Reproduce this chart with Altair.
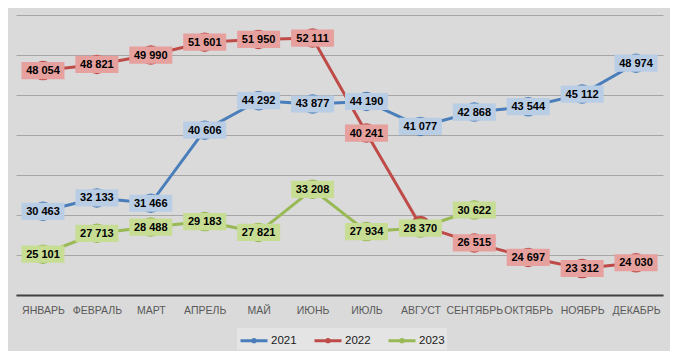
import altair as alt
import pandas as pd

months = ["ЯНВАРЬ", "ФЕВРАЛЬ", "МАРТ", "АПРЕЛЬ", "МАЙ", "ИЮНЬ", "ИЮЛЬ",
          "АВГУСТ", "СЕНТЯБРЬ", "ОКТЯБРЬ", "НОЯБРЬ", "ДЕКАБРЬ"]
years = ["2021", "2022", "2023"]
v2021 = [30463, 32133, 31466, 40606, 44292, 43877, 44190, 41077, 42868, 43544, 45112, 48974]
v2022 = [48054, 48821, 49990, 51601, 51950, 52111, 40241, 28700, 26515, 24697, 23312, 24030]
v2023 = [25101, 27713, 28488, 29183, 27821, 33208, 27934, 28370, 30622]
# label hidden in the reference (covered by the 2023 label)
hidden = {("2022", "АВГУСТ")}

line_colors = ["#4a7ebb", "#be4b48", "#98b954"]
box_colors = ["#b9cde5", "#e6a09e", "#c7dd94"]

rows = []
for yr, vals in zip(years, [v2021, v2022, v2023]):
    for m, v in zip(months, vals):
        lab = "" if (yr, m) in hidden else f"{v:,}".replace(",", " ")
        rows.append({"month": m, "year": yr, "value": v, "label": lab})
df = pd.DataFrame(rows)

x = alt.X("month:N", sort=months, title=None,
          scale=alt.Scale(paddingInner=0, paddingOuter=0),
          axis=alt.Axis(labelAngle=0, ticks=False, grid=False, domainColor="#404040",
                        domainWidth=2, labelColor="#595959", labelFont="Liberation Sans",
                        labelFontSize=10.5, labelPadding=10))
y = alt.Y("value:Q", title=None,
          scale=alt.Scale(domain=[20000, 55000], nice=False, zero=False),
          axis=alt.Axis(values=list(range(20000, 55001, 5000)), labels=False, ticks=False,
                        domain=False, grid=True, gridColor="#a6a6a6", gridWidth=1))

legend = alt.Legend(
    title=None, orient="none", direction="horizontal",
    legendX=221, legendY=313,
    symbolType="M-1,0H2M0.635,0A0.135,0.135 0 1,0 0.365,0A0.135,0.135 0 1,0 0.635,0",
    symbolSize=324, symbolStrokeWidth=3, symbolOpacity=1,
    labelFont="Liberation Sans", labelFontSize=11.5, labelColor="#1a1a1a",
    labelOffset=11, columnPadding=11, padding=2,
    fillColor="#e4e4e4",
)
color = alt.Color("year:N", scale=alt.Scale(domain=years, range=line_colors), legend=legend)

base = alt.Chart(df).encode(x=x, y=y)

lines = base.mark_line(strokeWidth=3).encode(color=color, detail="year:N")
points = base.mark_point(filled=True, size=380, opacity=1, strokeWidth=0).encode(color=color)
boxes = base.mark_point(
    filled=True, opacity=1, strokeWidth=0, size=1849,
    shape="M-1,-0.4H1V0.4H-1Z",
).encode(
    fill=alt.Fill("year:N", scale=alt.Scale(domain=years, range=box_colors), legend=None),
).transform_filter(alt.datum.label != "")
texts = base.mark_text(font="Liberation Sans", fontWeight="bold", fontSize=11,
                       color="#000000", baseline="middle", align="center", dy=0.5).encode(
    text="label:N"
).transform_filter(alt.datum.label != "")

chart = alt.layer(lines, points, boxes, texts).properties(
    width=647, height=280,
    autosize=alt.AutoSizeParams(type="none"),
    padding={"left": 8, "top": 7, "right": 7, "bottom": 56},
    background="#dadada",
).configure_view(stroke=None)

chart.save("out.html", embed_options={"renderer": "svg", "actions": False})
